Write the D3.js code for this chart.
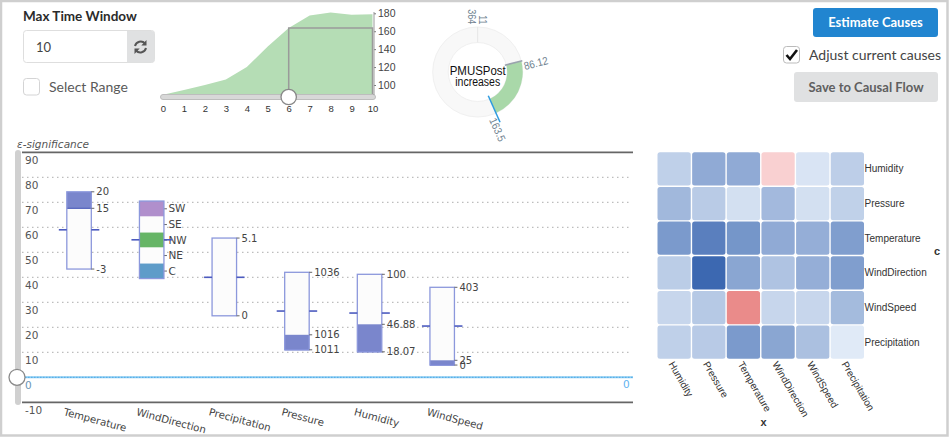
<!DOCTYPE html>
<html><head><meta charset="utf-8">
<script src="https://cdn.jsdelivr.net/npm/d3@7/dist/d3.min.js"></script>
<style>html,body{margin:0;padding:0;background:#fff}svg{display:block}
.axis .domain{display:none}</style></head><body>
<svg id="c" width="950" height="438" font-family="DejaVu Sans"></svg>
<script>
// --- data ---
const timeLags=[0,1,2,3,4,5,6,7,8,9,10];
const timeValues=[89,94.5,100,106,120,143,163.5,177.5,181,178.5,179];
const timeTicks=[100,120,140,160,180];
const selectedLag=6;
const categories=["Temperature","WindDirection","Precipitation","Pressure","Humidity","WindSpeed"];
const barTops=[74.2,70.5,55.7,42,41.2,36];
const barBottoms=[43.3,39.5,24.6,11,10.2,4.9];
const barMarkers=[59,55,40,26.5,25.7,20.5];
const filledTops=[74.2,null,null,17,21.2,6.8];
const filledBottoms=[67.6,null,null,11,10.2,4.9];
const rangeLabels=[
  [["20",74.2],["15",67.6],["-3",43.3]],
  [],
  [["5.1",55.7],["0",24.6]],
  [["1036",42],["1016",17],["1011",11]],
  [["100",41.2],["46.88",21.2],["18.07",10.2]],
  [["403",36],["25",6.8],["0",4.9]]
];
const windCats=["SW","SE","NW","NE","C"];
const windEdges=[70.5,64.3,57.9,51.9,45.5,39.5];
const windColors=["#b08fcc","#fcfcfc","#66b566","#fcfcfc","#5e9cc9"];
const sigTicks=[-10,0,10,20,30,40,50,60,70,80,90];
const heatY=["Humidity","Pressure","Temperature","WindDirection","WindSpeed","Precipitation"];
const heatX=["Humidity","Pressure","Temperature","WindDirection","WindSpeed","Precipitation"];
const heatValues=[
 [.25,.52,.52,-.3,.10,.26],
 [.42,.28,.13,.41,.13,.24],
 [.64,.83,.67,.52,.49,.61],
 [.27,1,.55,.34,.49,.61],
 [.20,.30,-1,.20,.20,.40],
 [.25,.29,.64,.55,.36,.06]
];
const donutCenterLabels=["PMUSPost","increases"];
const donutRange=[75.9,156];
const donutTicks=["364","11","86.12","163.5"];

// --- page ---
const svg=d3.select("#c");
const LS="Liberation Sans", DJ="DejaVu Sans";
svg.append("rect").attr("x",1).attr("y",1).attr("width",946.5).attr("height",434.5)
  .attr("fill","#fff").attr("stroke","#cfcfcf").attr("stroke-width",2.5);

// controls
const ui=svg.append("g").attr("font-family","Lato");
ui.append("text").attr("x",23).attr("y",21).attr("font-size",13.5).attr("font-weight",700).attr("fill","#2b2b2b").text("Max Time Window");
ui.append("rect").attr("x",23.5).attr("y",30.5).attr("width",131).attr("height",32).attr("rx",3).attr("fill","#fff").attr("stroke","#dedede");
ui.append("path").attr("d","M127 31H151.5a3 3 0 0 1 3 3V59.5a3 3 0 0 1 -3 3H127Z").attr("fill","#e0e1e2");
ui.append("text").attr("x",36).attr("y",52).attr("font-size",13).attr("fill","#444").text("10");
const ic=ui.append("g").attr("transform","translate(140.5,47)").attr("fill","none").attr("stroke","#555").attr("stroke-width",2);
ic.append("path").attr("d","M-5.5 -1A5.8 5.8 0 0 1 4.5 -3.5");
ic.append("path").attr("d","M5.5 1A5.8 5.8 0 0 1 -4.5 3.5");
ic.append("path").attr("d","M6 -7V-1.5H0.8Z").attr("fill","#555").attr("stroke","none");
ic.append("path").attr("d","M-6 7V1.5H-0.8Z").attr("fill","#555").attr("stroke","none");
ui.append("rect").attr("x",23.5).attr("y",78.5).attr("width",16).attr("height",16.5).attr("rx",3).attr("fill","#fff").attr("stroke","#d4d4d5");
ui.append("text").attr("x",49).attr("y",92).attr("font-size",14).attr("fill","#5a5a5a").text("Select Range");

ui.append("rect").attr("x",813).attr("y",8).attr("width",125).attr("height",29).attr("rx",3).attr("fill","#2185d0");
ui.append("text").attr("x",875.5).attr("y",27).attr("text-anchor","middle").attr("font-size",13).attr("font-weight",700).attr("fill","#fff").text("Estimate Causes");
ui.append("rect").attr("x",783.5).attr("y",46.5).attr("width",16).attr("height",16.5).attr("rx",3).attr("fill","#fff").attr("stroke","#bbb");
ui.append("path").attr("d","M786.5 55L790 59L797 50").attr("fill","none").attr("stroke","#111").attr("stroke-width",2.6);
ui.append("text").attr("x",809).attr("y",60).attr("font-size",14).attr("fill","#444").text("Adjust current causes");
ui.append("rect").attr("x",794).attr("y",72).attr("width",144).attr("height",30).attr("rx",3).attr("fill","#e0e1e2");
ui.append("text").attr("x",866).attr("y",92).attr("text-anchor","middle").attr("font-size",13).attr("font-weight",700).attr("fill","#5f5f5f").text("Save to Causal Flow");

// time-lag area
const tx=d3.scaleLinear().domain([0,10]).range([163,372.5]);
const ty=d3.scaleLinear().domain([100,180]).range([85,13.3]);
const area=d3.area().x((d,i)=>tx(timeLags[i])).y0(95).y1(d=>ty(d));
svg.append("path").datum(timeValues).attr("d",area).attr("fill","#b5ddb5");
const si=timeLags.indexOf(selectedLag);
svg.append("path").attr("fill","none").attr("stroke","#9a9a9a").attr("stroke-width",1.5)
  .attr("d",`M${tx(selectedLag)} 95V${ty(timeValues[si])}H${tx(10)}V95`);
svg.append("rect").attr("x",160.5).attr("y",94.5).attr("width",215).attr("height",5).attr("rx",2.5).attr("fill","#d8d8d8").attr("stroke","#bdbdbd");
svg.append("circle").attr("cx",tx(selectedLag)).attr("cy",97).attr("r",7.7).attr("fill","#fff").attr("stroke","#888").attr("stroke-width",1.3);
const ax1=svg.append("g").attr("class","axis").attr("transform","translate(0,103)")
  .call(d3.axisBottom(tx).tickValues(timeLags).tickSize(0).tickFormat(d3.format("d")));
ax1.selectAll("text").attr("font-size",9.5).attr("fill","#333").attr("font-family",LS).attr("y",2);
const ax2=svg.append("g").attr("class","axis").attr("transform","translate(374,0)")
  .call(d3.axisRight(ty).tickValues(timeTicks).tickSize(2));
ax2.selectAll("text").attr("font-size",10.5).attr("fill","#444").attr("x",4).attr("font-family",LS);
ax2.selectAll("line").attr("stroke","#777");
svg.append("line").attr("x1",374).attr("x2",374).attr("y1",12).attr("y2",95).attr("stroke","#999");

// donut
const dc=svg.append("g").attr("transform","translate(477.7,72)").attr("font-family",LS);
const rad=Math.PI/180, arc=d3.arc();
dc.append("path").attr("fill","#f8f8f8").attr("stroke","#f0f0f0").attr("d",arc({innerRadius:29.5,outerRadius:45,startAngle:0,endAngle:2*Math.PI}));
dc.append("path").attr("fill","#a9d8a9").attr("d",arc({innerRadius:29.5,outerRadius:45,startAngle:donutRange[0]*rad,endAngle:donutRange[1]*rad}));
const spoke=(a,r0,r1,c,w)=>dc.append("line").attr("x1",r0*Math.sin(a*rad)).attr("y1",-r0*Math.cos(a*rad))
  .attr("x2",r1*Math.sin(a*rad)).attr("y2",-r1*Math.cos(a*rad)).attr("stroke",c).attr("stroke-width",w);
spoke(0,29.5,45,"#e6e6e6",1);
spoke(donutRange[0],28,46,"#9aa3ad",1.5);
spoke(donutRange[1],26,55,"#2f9be0",1.5);
const centerLen=[56,45];
dc.selectAll("text.c").data(donutCenterLabels).join("text").attr("class","c").attr("text-anchor","middle")
  .attr("x",0).attr("y",(d,i)=>i?14:3).attr("fill","#111").attr("font-size",(d,i)=>i?12:13)
  .attr("textLength",(d,i)=>centerLen[i]).attr("lengthAdjust","spacingAndGlyphs").text(d=>d);
const donutPlace=["translate(-10,-47.7) rotate(90)","translate(1.6,-47.7) rotate(90)","translate(47.3,-2) rotate(-14.5)","translate(11.3,48) rotate(66)"];
const tickLen=[15,9,24.5,24.5];
dc.selectAll("text.t").data(donutTicks).join("text").attr("class","t").attr("font-size",11).attr("fill","#6f8290")
  .attr("transform",(d,i)=>donutPlace[i]).attr("text-anchor",(d,i)=>i<2?"end":"start")
  .attr("textLength",(d,i)=>tickLen[i]).attr("lengthAdjust","spacingAndGlyphs").text(d=>d);

// significance panel
const y=d3.scaleLinear().domain([-10,90]).range([402.3,152.3]);
const x=d3.scaleBand().domain(categories).range([42.75,478.5]).paddingInner(0);
const W=24.5, cx=c=>x(c)+x.bandwidth()/2;
svg.append("text").attr("x",17).attr("y",148).attr("font-size",10.5).attr("font-style","italic").attr("fill","#555").text("ε-significance");
svg.selectAll("line.g").data(sigTicks.filter(d=>d>0&&d<90)).join("line").attr("class","g").attr("x1",22).attr("x2",632).attr("y1",d=>y(d)).attr("y2",d=>y(d))
  .attr("stroke","#bdbdbd").attr("stroke-width",1.3).attr("stroke-dasharray","1.5 3.5");
[90,-10].forEach(v=>svg.append("line").attr("x1",22).attr("x2",633).attr("y1",y(v)).attr("y2",y(v)).attr("stroke","#666").attr("stroke-width",1.8));
svg.append("line").attr("x1",22).attr("x2",633).attr("y1",y(0)).attr("y2",y(0)).attr("stroke","#8accf2").attr("stroke-width",2);
svg.append("line").attr("x1",22).attr("x2",633).attr("y1",y(0)).attr("y2",y(0)).attr("stroke","#3f9fe4").attr("stroke-width",.8).attr("stroke-dasharray","1.5 1.5");
const ay=svg.append("g").attr("class","axis").attr("transform","translate(25,0)")
  .call(d3.axisRight(y).tickValues(sigTicks).tickSize(0).tickFormat(d=>String(d)));
ay.selectAll("text").attr("x",0).attr("dy","1.05em").attr("font-size",10.5).attr("font-family",DJ).attr("fill",d=>d===0?"#6b95b5":"#555");
svg.append("text").attr("x",623).attr("y",y(0)+11).attr("font-size",10.5).attr("fill","#5fb3f0").text("0");
svg.append("rect").attr("x",15).attr("y",150).attr("width",6).attr("height",255).attr("rx",3).attr("fill","#d0d0d0");
svg.append("circle").attr("cx",17).attr("cy",y(0)).attr("r",8).attr("fill","#fff").attr("stroke","#8a8a8a").attr("stroke-width",1.3);

categories.forEach((c,i)=>{
  const g=svg.append("g"), m=cx(c), L=m-W/2, R=m+W/2;
  g.append("rect").attr("x",L).attr("y",y(barTops[i])).attr("width",W).attr("height",y(barBottoms[i])-y(barTops[i])).attr("fill","#fcfcfc");
  if(filledTops[i]!==null){
    g.append("rect").attr("x",L).attr("y",y(filledTops[i])).attr("width",W).attr("height",y(filledBottoms[i])-y(filledTops[i])).attr("fill","#7a86cc");
    g.append("line").attr("x1",L).attr("x2",R).attr("y1",y(filledBottoms[i])).attr("y2",y(filledBottoms[i])).attr("stroke","#3f51b5");
  }
  if(c==="WindDirection"){
    windCats.forEach((w,k)=>{
      g.append("rect").attr("x",L).attr("y",y(windEdges[k])).attr("width",W).attr("height",y(windEdges[k+1])-y(windEdges[k])).attr("fill",windColors[k]);
      const v=(windEdges[k]+windEdges[k+1])/2;
      g.append("line").attr("x1",R).attr("x2",R+3).attr("y1",y(v)).attr("y2",y(v)).attr("stroke","#666");
      g.append("text").attr("x",R+4.5).attr("y",y(v)+3.5).attr("font-size",10.5).attr("fill","#444").text(w);
    });
  }
  g.append("rect").attr("x",L).attr("y",y(barTops[i])).attr("width",W).attr("height",y(barBottoms[i])-y(barTops[i])).attr("fill","none").attr("stroke","#8c98dc").attr("stroke-width",1.3);
  rangeLabels[i].forEach(([t,v])=>{
    g.append("line").attr("x1",R).attr("x2",R+3).attr("y1",y(v)).attr("y2",y(v)).attr("stroke","#666");
    g.append("text").attr("x",R+5).attr("y",y(v)+3.6).attr("font-size",10).attr("fill","#444").text(t);
  });
  [[L-8,L],[R,R+8]].forEach(([a,b])=>g.append("line").attr("x1",a).attr("x2",b).attr("y1",y(barMarkers[i])).attr("y2",y(barMarkers[i])).attr("stroke","#4c5bbf").attr("stroke-width",1.6));
  svg.append("text").attr("transform",`translate(${m-16},${415}) rotate(15)`).attr("font-size",10.2).attr("fill","#444").text(c);
});

// heatmap
const hx=d3.scaleBand().domain(heatX).range([657.5,864]).paddingInner(.04);
const hy=d3.scaleBand().domain(heatY).range([152.3,358.8]).paddingInner(.04);
const color=d3.scaleLinear().domain([-1,-.3,0,1]).range(["#ea8b8a","#f9d0d1","#eaf2fb","#3c68b1"]);
heatY.forEach((r,i)=>heatX.forEach((c,j)=>{
  svg.append("rect").attr("x",hx(c)).attr("y",hy(r)).attr("width",hx.bandwidth()).attr("height",hy.bandwidth()).attr("rx",2.5).attr("fill",color(heatValues[i][j]));
}));
const lib=svg.append("g").attr("font-family",LS);
heatY.forEach(r=>lib.append("text").attr("x",864.5).attr("y",hy(r)+hy.bandwidth()/2+3.5).attr("font-size",10).attr("fill","#333").text(r));
heatX.forEach(c=>lib.append("text").attr("transform",`translate(${hx(c)+hx.bandwidth()/2-6},${364}) rotate(60)`).attr("font-size",10).attr("fill","#333").text(c));
lib.append("text").attr("x",934).attr("y",255).attr("font-size",11).attr("font-weight",700).attr("fill","#333").text("c");
lib.append("text").attr("x",760.5).attr("y",426).attr("font-size",11).attr("font-weight",700).attr("fill","#333").text("x");
</script></body></html>
